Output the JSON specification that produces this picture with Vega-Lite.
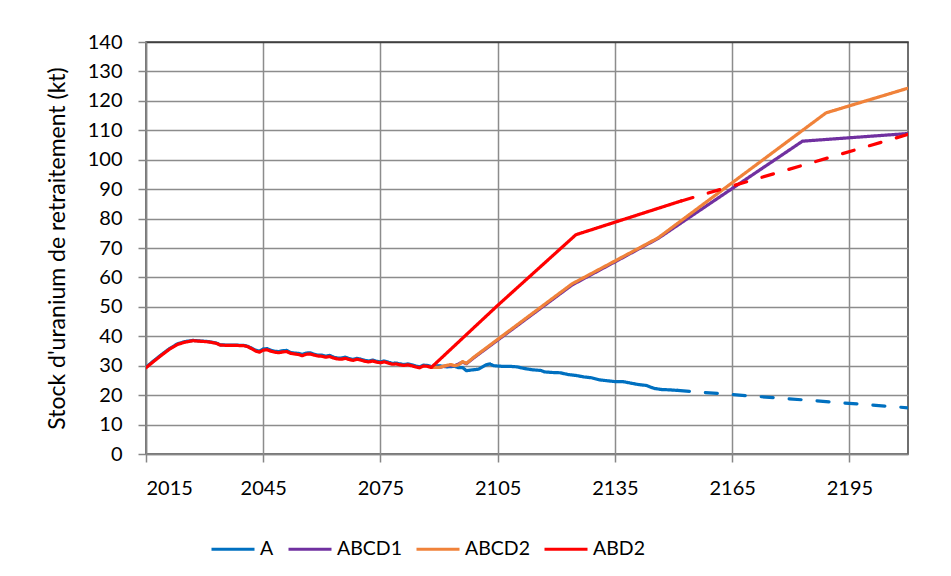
{
  "$schema": "https://vega.github.io/schema/vega-lite/v6.json",
  "autosize": {"type": "none"},
  "width": 762,
  "height": 412,
  "padding": {"left": 146, "top": 42, "right": 43, "bottom": 122},
  "background": "white",
  "config": {
    "font": "Lato",
    "view": {"stroke": "#404040", "strokeWidth": 1.5},
    "axis": {
      "labelFont": "Lato",
      "labelFontSize": 20,
      "labelColor": "#000000",
      "titleFont": "Lato",
      "titleFontSize": 23,
      "titleFontWeight": "normal",
      "titleColor": "#000000",
      "domainColor": "#868686",
      "domainWidth": 1.5,
      "tickColor": "#868686",
      "tickWidth": 1.5,
      "tickSize": 8,
      "gridWidth": 1.5
    },
    "legend": {
      "labelFont": "Lato",
      "labelFontSize": 19.5,
      "labelColor": "#000000"
    }
  },
  "data": {
    "values": [
      {"s": "A", "part": "solid", "year": 2015, "v": 29.5},
      {"s": "A", "part": "solid", "year": 2017, "v": 31.7},
      {"s": "A", "part": "solid", "year": 2019, "v": 33.8},
      {"s": "A", "part": "solid", "year": 2021, "v": 35.8},
      {"s": "A", "part": "solid", "year": 2023, "v": 37.4},
      {"s": "A", "part": "solid", "year": 2025, "v": 38.2},
      {"s": "A", "part": "solid", "year": 2027, "v": 38.6},
      {"s": "A", "part": "solid", "year": 2029, "v": 38.4},
      {"s": "A", "part": "solid", "year": 2031, "v": 38.2},
      {"s": "A", "part": "solid", "year": 2033, "v": 37.7},
      {"s": "A", "part": "solid", "year": 2034, "v": 37.1},
      {"s": "A", "part": "solid", "year": 2036, "v": 37.0},
      {"s": "A", "part": "solid", "year": 2038, "v": 37.0},
      {"s": "A", "part": "solid", "year": 2040, "v": 36.9},
      {"s": "A", "part": "solid", "year": 2041, "v": 36.6},
      {"s": "A", "part": "solid", "year": 2042, "v": 36.0},
      {"s": "A", "part": "solid", "year": 2043, "v": 35.3},
      {"s": "A", "part": "solid", "year": 2044, "v": 34.9},
      {"s": "A", "part": "solid", "year": 2045, "v": 35.7},
      {"s": "A", "part": "solid", "year": 2046, "v": 35.8},
      {"s": "A", "part": "solid", "year": 2047, "v": 35.2},
      {"s": "A", "part": "solid", "year": 2048, "v": 34.9},
      {"s": "A", "part": "solid", "year": 2049, "v": 34.8},
      {"s": "A", "part": "solid", "year": 2050, "v": 35.1},
      {"s": "A", "part": "solid", "year": 2051, "v": 35.2},
      {"s": "A", "part": "solid", "year": 2052, "v": 34.5},
      {"s": "A", "part": "solid", "year": 2053, "v": 34.3},
      {"s": "A", "part": "solid", "year": 2054, "v": 34.2},
      {"s": "A", "part": "solid", "year": 2055, "v": 33.8},
      {"s": "A", "part": "solid", "year": 2056, "v": 34.3},
      {"s": "A", "part": "solid", "year": 2057, "v": 34.4},
      {"s": "A", "part": "solid", "year": 2058, "v": 33.9},
      {"s": "A", "part": "solid", "year": 2059, "v": 33.6},
      {"s": "A", "part": "solid", "year": 2060, "v": 33.6},
      {"s": "A", "part": "solid", "year": 2061, "v": 33.2},
      {"s": "A", "part": "solid", "year": 2062, "v": 33.5},
      {"s": "A", "part": "solid", "year": 2063, "v": 32.9},
      {"s": "A", "part": "solid", "year": 2064, "v": 32.6},
      {"s": "A", "part": "solid", "year": 2065, "v": 32.6},
      {"s": "A", "part": "solid", "year": 2066, "v": 32.9},
      {"s": "A", "part": "solid", "year": 2067, "v": 32.4},
      {"s": "A", "part": "solid", "year": 2068, "v": 32.1},
      {"s": "A", "part": "solid", "year": 2069, "v": 32.5},
      {"s": "A", "part": "solid", "year": 2070, "v": 32.2},
      {"s": "A", "part": "solid", "year": 2071, "v": 31.8},
      {"s": "A", "part": "solid", "year": 2072, "v": 31.6},
      {"s": "A", "part": "solid", "year": 2073, "v": 31.9},
      {"s": "A", "part": "solid", "year": 2074, "v": 31.5},
      {"s": "A", "part": "solid", "year": 2075, "v": 31.3},
      {"s": "A", "part": "solid", "year": 2076, "v": 31.6},
      {"s": "A", "part": "solid", "year": 2077, "v": 31.2},
      {"s": "A", "part": "solid", "year": 2078, "v": 30.8},
      {"s": "A", "part": "solid", "year": 2079, "v": 30.9},
      {"s": "A", "part": "solid", "year": 2080, "v": 30.6},
      {"s": "A", "part": "solid", "year": 2081, "v": 30.4},
      {"s": "A", "part": "solid", "year": 2082, "v": 30.6},
      {"s": "A", "part": "solid", "year": 2083, "v": 30.3},
      {"s": "A", "part": "solid", "year": 2084, "v": 29.9},
      {"s": "A", "part": "solid", "year": 2085, "v": 29.6},
      {"s": "A", "part": "solid", "year": 2086, "v": 30.2},
      {"s": "A", "part": "solid", "year": 2087, "v": 30.1},
      {"s": "A", "part": "solid", "year": 2088, "v": 29.7},
      {"s": "A", "part": "solid", "year": 2090, "v": 30.0},
      {"s": "A", "part": "solid", "year": 2092, "v": 29.6},
      {"s": "A", "part": "solid", "year": 2094, "v": 29.8},
      {"s": "A", "part": "solid", "year": 2095, "v": 29.3},
      {"s": "A", "part": "solid", "year": 2096, "v": 29.4},
      {"s": "A", "part": "solid", "year": 2097, "v": 28.3},
      {"s": "A", "part": "solid", "year": 2098, "v": 28.5},
      {"s": "A", "part": "solid", "year": 2100, "v": 28.8},
      {"s": "A", "part": "solid", "year": 2102, "v": 30.3},
      {"s": "A", "part": "solid", "year": 2103, "v": 30.6},
      {"s": "A", "part": "solid", "year": 2104, "v": 30.0},
      {"s": "A", "part": "solid", "year": 2106, "v": 29.8},
      {"s": "A", "part": "solid", "year": 2108, "v": 29.8},
      {"s": "A", "part": "solid", "year": 2110, "v": 29.6},
      {"s": "A", "part": "solid", "year": 2112, "v": 29.0},
      {"s": "A", "part": "solid", "year": 2114, "v": 28.6},
      {"s": "A", "part": "solid", "year": 2116, "v": 28.4},
      {"s": "A", "part": "solid", "year": 2117, "v": 27.9},
      {"s": "A", "part": "solid", "year": 2119, "v": 27.7},
      {"s": "A", "part": "solid", "year": 2121, "v": 27.6},
      {"s": "A", "part": "solid", "year": 2123, "v": 27.0},
      {"s": "A", "part": "solid", "year": 2125, "v": 26.7},
      {"s": "A", "part": "solid", "year": 2127, "v": 26.2},
      {"s": "A", "part": "solid", "year": 2129, "v": 25.9},
      {"s": "A", "part": "solid", "year": 2131, "v": 25.2},
      {"s": "A", "part": "solid", "year": 2133, "v": 24.9},
      {"s": "A", "part": "solid", "year": 2135, "v": 24.6},
      {"s": "A", "part": "solid", "year": 2137, "v": 24.6},
      {"s": "A", "part": "solid", "year": 2139, "v": 24.1},
      {"s": "A", "part": "solid", "year": 2141, "v": 23.6},
      {"s": "A", "part": "solid", "year": 2143, "v": 23.3},
      {"s": "A", "part": "solid", "year": 2145, "v": 22.3},
      {"s": "A", "part": "solid", "year": 2147, "v": 21.9},
      {"s": "A", "part": "solid", "year": 2149, "v": 21.8},
      {"s": "A", "part": "solid", "year": 2151, "v": 21.6},
      {"s": "A", "part": "dash", "year": 2151, "v": 21.6},
      {"s": "A", "part": "dash", "year": 2210, "v": 15.7},

      {"s": "ABCD1", "part": "solid", "year": 2088, "v": 29.5},
      {"s": "ABCD1", "part": "solid", "year": 2090, "v": 29.4},
      {"s": "ABCD1", "part": "solid", "year": 2092, "v": 30.0},
      {"s": "ABCD1", "part": "solid", "year": 2094, "v": 30.0},
      {"s": "ABCD1", "part": "solid", "year": 2096, "v": 31.2},
      {"s": "ABCD1", "part": "solid", "year": 2097, "v": 30.7},
      {"s": "ABCD1", "part": "solid", "year": 2099, "v": 32.8},
      {"s": "ABCD1", "part": "solid", "year": 2124, "v": 57.4},
      {"s": "ABCD1", "part": "solid", "year": 2136, "v": 66.0},
      {"s": "ABCD1", "part": "solid", "year": 2146, "v": 73.2},
      {"s": "ABCD1", "part": "solid", "year": 2183, "v": 106.3},
      {"s": "ABCD1", "part": "solid", "year": 2210, "v": 108.9},

      {"s": "ABCD2", "part": "solid", "year": 2088, "v": 29.5},
      {"s": "ABCD2", "part": "solid", "year": 2090, "v": 29.4},
      {"s": "ABCD2", "part": "solid", "year": 2092, "v": 30.1},
      {"s": "ABCD2", "part": "solid", "year": 2093, "v": 30.4},
      {"s": "ABCD2", "part": "solid", "year": 2094, "v": 30.0},
      {"s": "ABCD2", "part": "solid", "year": 2095, "v": 30.3},
      {"s": "ABCD2", "part": "solid", "year": 2096, "v": 31.4},
      {"s": "ABCD2", "part": "solid", "year": 2097, "v": 30.8},
      {"s": "ABCD2", "part": "solid", "year": 2099, "v": 33.0},
      {"s": "ABCD2", "part": "solid", "year": 2124, "v": 57.8},
      {"s": "ABCD2", "part": "solid", "year": 2136, "v": 66.3},
      {"s": "ABCD2", "part": "solid", "year": 2146, "v": 73.4},
      {"s": "ABCD2", "part": "solid", "year": 2189, "v": 115.9},
      {"s": "ABCD2", "part": "solid", "year": 2210, "v": 124.3},

      {"s": "ABD2", "part": "solid", "year": 2015, "v": 29.3},
      {"s": "ABD2", "part": "solid", "year": 2017, "v": 31.5},
      {"s": "ABD2", "part": "solid", "year": 2019, "v": 33.6},
      {"s": "ABD2", "part": "solid", "year": 2021, "v": 35.6},
      {"s": "ABD2", "part": "solid", "year": 2023, "v": 37.2},
      {"s": "ABD2", "part": "solid", "year": 2025, "v": 38.0},
      {"s": "ABD2", "part": "solid", "year": 2027, "v": 38.5},
      {"s": "ABD2", "part": "solid", "year": 2029, "v": 38.3},
      {"s": "ABD2", "part": "solid", "year": 2031, "v": 38.1},
      {"s": "ABD2", "part": "solid", "year": 2033, "v": 37.6},
      {"s": "ABD2", "part": "solid", "year": 2034, "v": 37.0},
      {"s": "ABD2", "part": "solid", "year": 2036, "v": 36.9},
      {"s": "ABD2", "part": "solid", "year": 2038, "v": 36.9},
      {"s": "ABD2", "part": "solid", "year": 2040, "v": 36.8},
      {"s": "ABD2", "part": "solid", "year": 2041, "v": 36.5},
      {"s": "ABD2", "part": "solid", "year": 2042, "v": 35.8},
      {"s": "ABD2", "part": "solid", "year": 2043, "v": 35.0},
      {"s": "ABD2", "part": "solid", "year": 2044, "v": 34.6},
      {"s": "ABD2", "part": "solid", "year": 2045, "v": 35.3},
      {"s": "ABD2", "part": "solid", "year": 2046, "v": 35.4},
      {"s": "ABD2", "part": "solid", "year": 2047, "v": 34.9},
      {"s": "ABD2", "part": "solid", "year": 2048, "v": 34.6},
      {"s": "ABD2", "part": "solid", "year": 2049, "v": 34.4},
      {"s": "ABD2", "part": "solid", "year": 2050, "v": 34.7},
      {"s": "ABD2", "part": "solid", "year": 2051, "v": 34.8},
      {"s": "ABD2", "part": "solid", "year": 2052, "v": 34.2},
      {"s": "ABD2", "part": "solid", "year": 2053, "v": 34.0},
      {"s": "ABD2", "part": "solid", "year": 2054, "v": 33.8},
      {"s": "ABD2", "part": "solid", "year": 2055, "v": 33.4},
      {"s": "ABD2", "part": "solid", "year": 2056, "v": 33.9},
      {"s": "ABD2", "part": "solid", "year": 2057, "v": 34.0},
      {"s": "ABD2", "part": "solid", "year": 2058, "v": 33.6},
      {"s": "ABD2", "part": "solid", "year": 2059, "v": 33.3},
      {"s": "ABD2", "part": "solid", "year": 2060, "v": 33.2},
      {"s": "ABD2", "part": "solid", "year": 2061, "v": 32.9},
      {"s": "ABD2", "part": "solid", "year": 2062, "v": 33.1},
      {"s": "ABD2", "part": "solid", "year": 2063, "v": 32.6},
      {"s": "ABD2", "part": "solid", "year": 2064, "v": 32.3},
      {"s": "ABD2", "part": "solid", "year": 2065, "v": 32.2},
      {"s": "ABD2", "part": "solid", "year": 2066, "v": 32.5},
      {"s": "ABD2", "part": "solid", "year": 2067, "v": 32.1},
      {"s": "ABD2", "part": "solid", "year": 2068, "v": 31.8},
      {"s": "ABD2", "part": "solid", "year": 2069, "v": 32.2},
      {"s": "ABD2", "part": "solid", "year": 2070, "v": 31.9},
      {"s": "ABD2", "part": "solid", "year": 2071, "v": 31.5},
      {"s": "ABD2", "part": "solid", "year": 2072, "v": 31.3},
      {"s": "ABD2", "part": "solid", "year": 2073, "v": 31.6},
      {"s": "ABD2", "part": "solid", "year": 2074, "v": 31.2},
      {"s": "ABD2", "part": "solid", "year": 2075, "v": 31.0},
      {"s": "ABD2", "part": "solid", "year": 2076, "v": 31.3},
      {"s": "ABD2", "part": "solid", "year": 2077, "v": 30.9},
      {"s": "ABD2", "part": "solid", "year": 2078, "v": 30.5},
      {"s": "ABD2", "part": "solid", "year": 2079, "v": 30.6},
      {"s": "ABD2", "part": "solid", "year": 2080, "v": 30.3},
      {"s": "ABD2", "part": "solid", "year": 2081, "v": 30.1},
      {"s": "ABD2", "part": "solid", "year": 2082, "v": 30.3},
      {"s": "ABD2", "part": "solid", "year": 2083, "v": 30.0},
      {"s": "ABD2", "part": "solid", "year": 2084, "v": 29.6},
      {"s": "ABD2", "part": "solid", "year": 2085, "v": 29.3},
      {"s": "ABD2", "part": "solid", "year": 2086, "v": 29.9},
      {"s": "ABD2", "part": "solid", "year": 2087, "v": 29.8},
      {"s": "ABD2", "part": "solid", "year": 2088, "v": 29.4},
      {"s": "ABD2", "part": "solid", "year": 2100, "v": 44.3},
      {"s": "ABD2", "part": "solid", "year": 2105, "v": 50.5},
      {"s": "ABD2", "part": "solid", "year": 2125, "v": 74.5},
      {"s": "ABD2", "part": "solid", "year": 2152, "v": 86.0},
      {"s": "ABD2", "part": "dash", "year": 2152, "v": 86.0},
      {"s": "ABD2", "part": "dash", "year": 2210, "v": 108.6}
    ]
  },
  "mark": {"type": "line", "strokeWidth": 3.2, "strokeCap": "round", "strokeJoin": "round", "clip": true},
  "encoding": {
    "x": {
      "field": "year",
      "type": "quantitative",
      "scale": {"domain": [2015, 2210], "nice": false, "zero": false},
      "axis": {
        "title": null,
        "values": [2015, 2045, 2075, 2105, 2135, 2165, 2195],
        "format": "d",
        "labelPadding": 16,
        "gridColor": "#8c8c8c"
      }
    },
    "y": {
      "field": "v",
      "type": "quantitative",
      "scale": {"domain": [0, 140], "nice": false},
      "axis": {
        "title": "Stock d'uranium de retraitement (kt)",
        "values": [0, 10, 20, 30, 40, 50, 60, 70, 80, 90, 100, 110, 120, 130, 140],
        "labelPadding": 16,
        "titlePadding": 18,
        "gridColor": {"condition": {"test": "datum.value == 140", "value": "#404040"}, "value": "#8c8c8c"}
      }
    },
    "color": {
      "field": "s",
      "type": "nominal",
      "scale": {
        "domain": ["A", "ABCD1", "ABCD2", "ABD2"],
        "range": ["#0070C0", "#7030A0", "#F0823A", "#FF0000"]
      },
      "legend": {
        "title": null,
        "orient": "none",
        "direction": "horizontal",
        "legendX": 64,
        "legendY": 484,
        "symbolType": "stroke",
        "symbolSize": 1849,
        "symbolStrokeWidth": 3,
        "labelOffset": 4,
        "columnPadding": 8,
        "padding": 0
      }
    },
    "strokeDash": {
      "field": "part",
      "type": "nominal",
      "scale": {"domain": ["solid", "dash"], "range": [[1, 0], [12, 16]]},
      "legend": null
    },
    "detail": {"field": "part"}
  }
}
